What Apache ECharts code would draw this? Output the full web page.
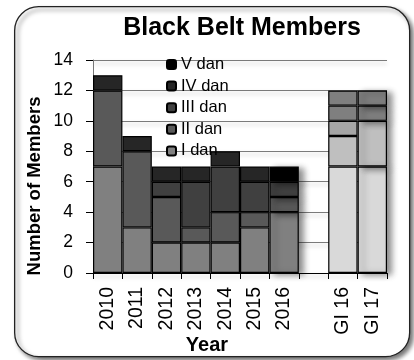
<!DOCTYPE html>
<html><head><meta charset="utf-8">
<script src="https://cdn.jsdelivr.net/npm/echarts@6/dist/echarts.min.js"></script>
<style>html,body{margin:0;padding:0;background:#fff}#c{width:414px;height:360px}</style>
</head><body><div id="c"></div>
<script>
const categories = ['2010','2011','2012','2013','2014','2015','2016','','GI 16','GI 17'];
const seriesNames = ['I dan','II dan','III dan','IV dan','V dan'];
const danI   = [7,3,2,2,2,3,4,'-',7,7];
const danII  = [5,5,3,1,2,1,1,'-',2,3];
const danIII = [0,0,1,3,3,2,1,'-',1,0];
const danIV  = [1,1,1,1,1,1,0,'-',1,1];
const danV   = [0,0,0,0,0,0,1,'-',1,1];
const yTicks = [0,2,4,6,8,10,12,14];
const yearColors = ['#808080','#595959','#404040','#262626','#000000'];
const giColors = ['#d9d9d9','#bfbfbf','#a6a6a6','#7f7f7f','#7f7f7f'];
const giCats = ['GI 16','GI 17'];
const shadowCats = ['2016','GI 17'];

const font = 'Liberation Sans, Arial, sans-serif';
const allData = [danI, danII, danIII, danIV, danV];
const series = allData.map((arr, si) => ({
  name: seriesNames[si],
  type: 'bar',
  stack: 'total',
  barCategoryGap: '0%',
  itemStyle: { color: yearColors[si], borderColor: '#000', borderWidth: 1.2 },
  data: arr.map((v, i) => {
    const val = (v === 0) ? '-' : v;
    const item = { value: val, itemStyle: {} };
    if (giCats.includes(categories[i])) item.itemStyle.color = giColors[si];
    if (shadowCats.includes(categories[i])) {
      item.itemStyle.shadowBlur = 6;
      item.itemStyle.shadowOffsetX = 5;
      item.itemStyle.shadowOffsetY = 2;
      item.itemStyle.shadowColor = 'rgba(0,0,0,0.45)';
    }
    return item;
  })
}));

const chart = echarts.init(document.getElementById('c'), null, { renderer: 'canvas' });
chart.setOption({
  animation: false,
  textStyle: { fontFamily: font },
  graphic: [
    { type: 'rect', left: 14, top: 6, z: -10,
      shape: { width: 395, height: 350, r: 24 },
      style: { fill: '#fff', stroke: '#222', lineWidth: 1.3,
        shadowBlur: 4, shadowOffsetX: 3, shadowOffsetY: 3, shadowColor: 'rgba(0,0,0,0.55)' } },
    { type: 'text', x: 242, y: 28,
      style: { text: 'Black Belt Members', font: 'bold 25px ' + font, fill: '#000',
        align: 'center', verticalAlign: 'middle' } },
    { type: 'text', x: 35, y: 186, rotation: Math.PI / 2, originX: 0, originY: 0,
      style: { text: 'Number of Members', font: 'bold 18.5px ' + font, fill: '#000',
        align: 'center', verticalAlign: 'middle' } },
    { type: 'text', x: 207, y: 345,
      style: { text: 'Year', font: 'bold 20px ' + font, fill: '#000',
        align: 'center', verticalAlign: 'middle' } }
  ],
  legend: {
    orient: 'vertical', left: 161, top: 51,
    data: seriesNames.slice().reverse(),
    itemWidth: 9, itemHeight: 9, itemGap: 4.6,
    textStyle: { fontSize: 16.5, fontFamily: font, color: '#000', lineHeight: 17 }
  },
  grid: { left: 93, right: 27, top: 60, bottom: 87 },
  xAxis: {
    type: 'category', data: categories,
    axisLine: { lineStyle: { color: '#000', width: 1 } },
    axisTick: { show: true, length: 6, lineStyle: { color: '#000' } },
    axisLabel: { rotate: 90, fontSize: 19.5, color: '#000', margin: 14, fontFamily: font }
  },
  yAxis: {
    type: 'value', min: yTicks[0], max: yTicks[yTicks.length - 1], interval: yTicks[1] - yTicks[0],
    axisLine: { show: true, lineStyle: { color: '#777', width: 1 } },
    axisTick: { show: true, length: 7, lineStyle: { color: '#000' } },
    axisLabel: { fontSize: 17.5, color: '#000', margin: 20, fontFamily: font },
    splitLine: { lineStyle: { color: '#7a7a7a', width: 1,
      shadowBlur: 4, shadowOffsetY: 3, shadowColor: 'rgba(0,0,0,0.25)' } }
  },
  series: series
});
</script></body></html>
